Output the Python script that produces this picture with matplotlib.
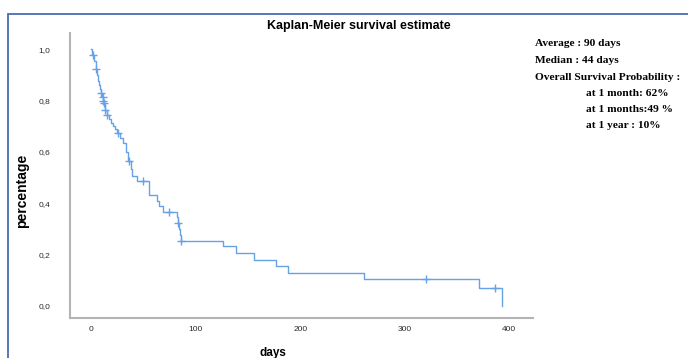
import matplotlib
matplotlib.use("Agg")
import matplotlib.pyplot as plt
from matplotlib.patches import Rectangle

# Kaplan-Meier step function (event times in days, survival after event)
event_days = [0, 1, 3, 4.5, 6, 7, 8, 9, 9.5, 10.5, 11.5, 12.5, 13.5, 15, 17, 19, 21, 23, 25,
              28, 31, 33, 35, 38, 39, 44, 55, 63, 65, 68.5, 82, 83, 84, 85, 86,
              126, 139, 156, 177, 188, 261, 371, 393]
survival = [1.0, 0.978, 0.955, 0.923, 0.90, 0.878, 0.862, 0.845, 0.83, 0.815, 0.80, 0.79, 0.764, 0.745,
            0.73, 0.715, 0.70, 0.69, 0.676,
            0.655, 0.635, 0.60, 0.565, 0.535, 0.508, 0.488, 0.433, 0.41, 0.39, 0.367, 0.345, 0.323, 0.30, 0.278, 0.255,
            0.232, 0.207, 0.18, 0.156, 0.13, 0.105, 0.071, 0.0]
# censored observations (days)
censor_days = [1.5, 5, 10, 11, 11.8, 12.8, 13.6, 15.3, 26, 36, 50, 74.6, 83.5, 86, 320, 386]

x_ticks = [0, 100, 200, 300, 400]
y_ticks = [0.0, 0.2, 0.4, 0.6, 0.8, 1.0]
y_tick_labels = ["0,0", "0,2", "0,4", "0,6", "0,8", "1,0"]

title = "Kaplan-Meier survival estimate"
x_label = "days"
y_label = "percentage"
notes = ["Average : 90 days", "Median : 44 days", "Overall Survival Probability :"]
notes_indented = ["at 1 month: 62%", "at 1 months:49 %", "at 1 year : 10%"]


def surv_at(t):
    s = 1.0
    for d, v in zip(event_days, survival):
        if d <= t:
            s = v
    return s


fig = plt.figure(figsize=(6.88, 3.58), dpi=100)
fig.patch.set_facecolor("white")
ax = fig.add_axes([70 / 688, 1 - 318 / 358, (533 - 70) / 688, (318 - 33) / 358])

line_color = "#66a2e8"
ax.step(event_days + [event_days[-1]], survival + [survival[-1]], where="post",
        color=line_color, lw=1.0)
ax.plot(censor_days, [surv_at(t) for t in censor_days], linestyle="none", marker="+",
        color=line_color, markersize=6, markeredgewidth=1.0)

ax.set_xlim(-20.1, 422.6)
ax.set_ylim(-0.047, 1.064)
ax.set_xticks(x_ticks)
ax.set_yticks(y_ticks)
ax.set_yticklabels(y_tick_labels)
for s in ["top", "right"]:
    ax.spines[s].set_visible(False)
for s in ["left", "bottom"]:
    ax.spines[s].set_color("#b4b4b4")
    ax.spines[s].set_linewidth(1.5)
ax.tick_params(axis="both", length=0, labelsize=6, labelcolor="#2a2a2a")
ax.tick_params(axis="y", pad=14)
ax.tick_params(axis="x", pad=6)
for lab in ax.get_xticklabels() + ax.get_yticklabels():
    lab.set_fontfamily("Liberation Sans")

fig.text(359 / 688, 1 - 26 / 358, title, ha="center", va="center",
         fontsize=9, fontweight="bold", family="Liberation Sans")
fig.text(273 / 688, 1 - 353 / 358, x_label, ha="center", va="center",
         fontsize=8.5, fontweight="bold", family="Liberation Sans")
fig.text(22 / 688, 1 - 191 / 358, y_label, ha="center", va="center", rotation=90,
         fontsize=10, fontweight="bold", family="Liberation Sans")

for i, t in enumerate(notes):
    fig.text(535 / 688, 1 - (44 + 16.5 * i) / 358, t, ha="left", va="center",
             fontsize=8.2, fontweight="bold", family="Liberation Serif")
for i, t in enumerate(notes_indented):
    fig.text(586 / 688, 1 - (93 + 16.5 * i) / 358, t, ha="left", va="center",
             fontsize=8.2, fontweight="bold", family="Liberation Serif")

# frame border around the figure content
fig.add_artist(Rectangle((8 / 688, -0.05), 1.1, 1 - 14 / 358 + 0.05, transform=fig.transFigure,
                         fill=False, edgecolor="#4a6db0", lw=1.3))

fig.savefig("out.png", dpi=100, facecolor="white")
